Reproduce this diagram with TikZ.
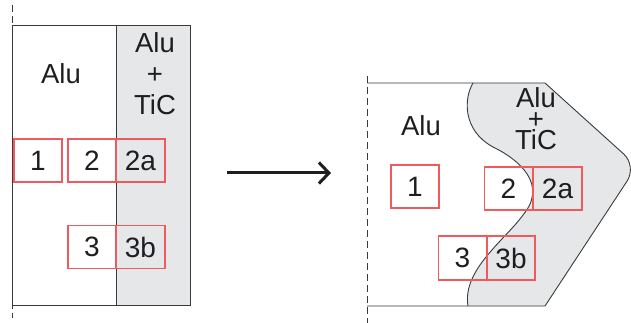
\documentclass[tikz,border=0pt]{standalone}
\usepackage{fontspec}
\setmainfont{Liberation Sans}
\usetikzlibrary{arrows.meta}
\definecolor{tic}{HTML}{E5E7E9}
\definecolor{edge}{HTML}{3A3A3A}
\definecolor{cellred}{HTML}{EE5A5E}
\definecolor{ink}{HTML}{1E1E1E}
\tikzset{
  cell/.style={draw=cellred, line width=1.1pt, minimum width=48pt, minimum height=43pt,
               inner sep=0pt, font=\fontsize{28}{30}\selectfont, text=ink},
  label/.style={font=\fontsize{27.5}{30}\selectfont, text=ink, inner sep=0pt, align=center},
  outline/.style={draw=edge, line width=0.9pt},
  axis/.style={draw=edge, line width=0.9pt, dash pattern=on 7pt off 4pt},
}
\begin{document}
\begin{tikzpicture}[x=1pt, y=-1pt]
\useasboundingbox (0,0) rectangle (631,323);

% ---- initial state: straight interface ----
\fill[tic] (116,25) rectangle (190,305);
\draw[outline] (12,25) rectangle (190,305);
\draw[outline] (116,25) -- (116,305);
\draw[axis] (12,5) -- (12,318);

\node[label] (aluL) at (61,74) {Alu};
\node[label, font=\fontsize{27.5}{31}\selectfont] (mixL) at (155,74) {Alu\\+\\TiC};

\node[cell] (l1)  at (38,160.5)  {1};
\node[cell] (l2)  at (92,160.5)  {2};
\node[cell, minimum width=49pt] (l2a) at (140.5,160.5) {2a};
\node[cell] (l3)  at (92,247)    {3};
\node[cell, minimum width=49pt] (l3b) at (140.5,247) {3b};

% ---- arrow ----
\coordinate (from) at (227,173);
\coordinate (to) at (331,173);
\draw[line width=3pt, draw=ink, -{Straight Barb[length=10pt,width=21pt]}] (from) -- (to);

% ---- deformed state: curved interface ----
\fill[tic] (473,83)
  .. controls (464,98) and (462,130) .. (493,147)
  .. controls (520,160) and (548,185) .. (523,215)
  .. controls (505,240) and (462,270) .. (468,306)
  -- (545,306) [rounded corners=18pt] -- (637,166) [sharp corners] -- (545,83) -- cycle;
\draw[outline] (473,83)
  .. controls (464,98) and (462,130) .. (493,147)
  .. controls (520,160) and (548,185) .. (523,215)
  .. controls (505,240) and (462,270) .. (468,306);
\draw[outline] (367,306) -- (545,306) [rounded corners=18pt] -- (637,166) [sharp corners] -- (545,83) -- (367,83);
\draw[axis] (367,76) -- (367,323);

\node[label] (aluR) at (421,126) {Alu};
\node[label, font=\fontsize{27.5}{21}\selectfont] (mixR) at (536,119) {Alu\\+\\TiC};

\node[cell] (r1)  at (415,186.5)   {1};
\node[cell] (r2)  at (508.5,188.5) {2};
\node[cell, minimum width=49pt] (r2a) at (557.5,188.5) {2a};
\node[cell, minimum height=44pt] (r3)  at (462.5,258) {3};
\node[cell, minimum height=44pt] (r3b) at (511,258)   {3b};
\end{tikzpicture}
\end{document}
